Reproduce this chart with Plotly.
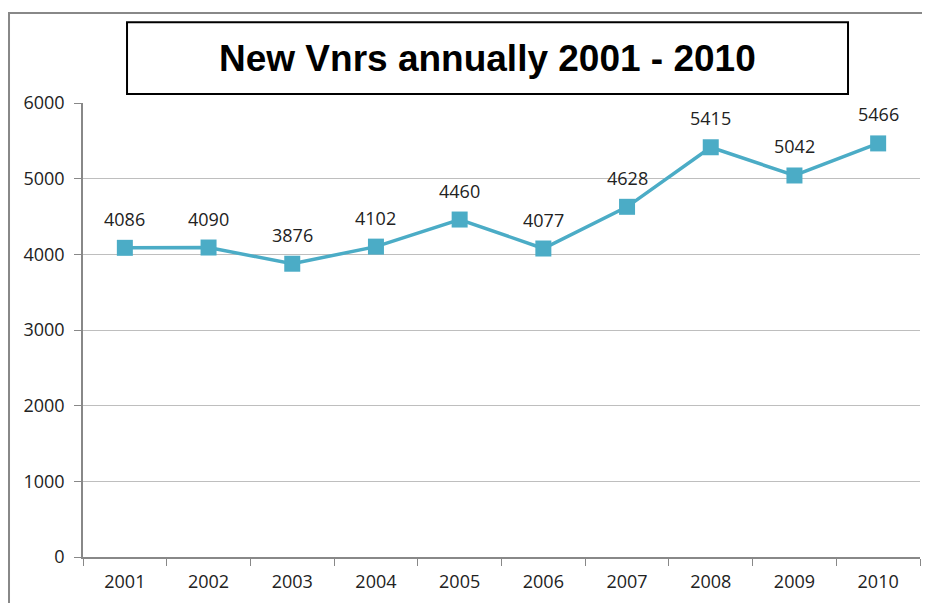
import plotly.graph_objects as go

years = ["2001", "2002", "2003", "2004", "2005", "2006", "2007", "2008", "2009", "2010"]
new_vnrs = [4086, 4090, 3876, 4102, 4460, 4077, 4628, 5415, 5042, 5466]
y_ticks = [0, 1000, 2000, 3000, 4000, 5000, 6000]

LINE = "#4BACC6"
FONT = "Open Sans, Liberation Sans, Arial, sans-serif"

fig = go.Figure()
fig.add_trace(go.Scatter(
    x=years, y=new_vnrs, mode="lines+markers",
    line=dict(color=LINE, width=3.5),
    marker=dict(symbol="square", size=16, color=LINE),
    showlegend=False, hoverinfo="x+y",
))

# data labels above each point (x given as category index)
for i, v in enumerate(new_vnrs):
    fig.add_annotation(x=i, y=v, text=str(v), showarrow=False, yshift=29,
                       font=dict(size=18, color="#222", family=FONT))

# title box and outer chart border
fig.add_shape(type="rect", xref="paper", yref="paper",
              x0=0.0526, x1=0.914, y0=1.0198, y1=1.178,
              line=dict(color="black", width=2), fillcolor="white")
fig.add_annotation(xref="paper", yref="paper", x=0.483, y=1.099,
                   xanchor="center", yanchor="middle",
                   text="<b>New Vnrs annually 2001 - 2010</b>", showarrow=False,
                   font=dict(size=37, color="black", family="Liberation Sans, Arial, sans-serif"))
fig.add_shape(type="rect", xref="paper", yref="paper",
              x0=-0.0884, x1=1.3, y0=-0.3, y1=1.198,
              line=dict(color="#888", width=2))

fig.update_xaxes(
    type="category", range=[-0.5, len(years) - 0.5],
    tickson="boundaries", ticks="outside", ticklen=7,
    tickcolor="#888", showline=True, linecolor="#888", linewidth=1.5,
    showgrid=False, tickangle=0, automargin=False, ticklabelstandoff=8,
    tickfont=dict(size=18, color="#222", family=FONT),
)
fig.update_yaxes(
    range=[0, 6000], tickvals=y_ticks, ticks="outside", ticklen=7,
    tickcolor="#888", showline=True, linecolor="#888", linewidth=1.5,
    gridcolor="#BEBEBE", gridwidth=1.2, zeroline=False, automargin=False,
    ticklabelstandoff=6,
    tickfont=dict(size=18, color="#222", family=FONT),
)
fig.update_layout(
    width=922, height=595,
    margin=dict(l=75, r=10, t=95, b=46),
    plot_bgcolor="white", paper_bgcolor="white",
)
fig.write_html("out.html")
